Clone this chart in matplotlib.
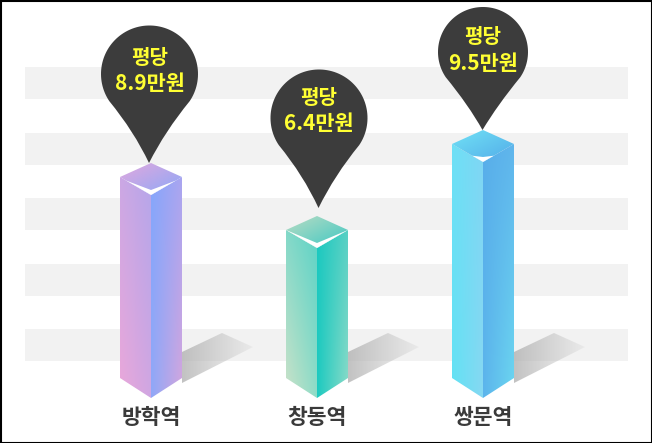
#!/usr/bin/env python3
"""역별 평당 가격 3D 막대 그림 (픽셀 좌표로 그림)."""
import numpy as np
import matplotlib
matplotlib.use("Agg")
import matplotlib.pyplot as plt
from matplotlib.colors import to_rgb
from matplotlib.patches import PathPatch, Polygon, Rectangle
from matplotlib.path import Path

plt.rcParams["font.family"] = ["Noto Sans CJK KR", "DejaVu Sans"]

stations = ["방학역", "창동역", "쌍문역"]
prices = ["8.9만원", "6.4만원", "9.5만원"]
bar_tops = [163, 216, 130]      # 윗면 꼭짓점 y
bar_centers = [151, 317, 483]
pin_centers = [(149.5, 74), (319, 118), (483, 52)]
pin_radius = [48.5, 48.5, 45]
pin_tips = [163, 208, 130]
head_ys = [57, 97, 36]
price_ys = [83, 123, 63]
stripe_tops = [67, 133, 198, 264, 329]

# 면 색: 좌상, 우상, 좌하, 우하
left_faces = [
    ("#cca8e4", "#b6a6ea", "#eaa8da", "#d0a6e2"),
    ("#84d9c9", "#5fd3c6", "#cbe2c8", "#8fdcc8"),
    ("#6ee0f6", "#7fd6f4", "#62e2f4", "#86d8f2"),
]
right_faces = [
    ("#86a6fb", "#aaa5f0", "#8fa8f8", "#d2a6de"),
    ("#1cc9c0", "#58d0c4", "#1ccac0", "#8adbc8"),
    ("#58aeea", "#60b6ec", "#5cb4ec", "#6bd6f0"),
]
top_faces = [
    ("#e2a8de", "#b8a8ea", "#b8a8ea", "#8ca8f8"),
    ("#b9dcc4", "#7cd2c4", "#7cd2c4", "#3cc8c2"),
    ("#70e2f6", "#62c6ee", "#62c6ee", "#52acea"),
]
chevron_reach = [0.8, 1.0, 0.35]

HALF_W = 31
SIDE_BOTTOM = 378
FRONT_BOTTOM = 398
TOP_DEPTH = 14
FRONT_DROP = 32

fig = plt.figure(figsize=(6.52, 4.43), dpi=100)
ax = fig.add_axes([0, 0, 1, 1])


def gradient_poly(verts, corners, zorder=3):
    """네 귀퉁이 색을 쌍선형 보간한 그라데이션을 다각형에 채운다."""
    verts = np.array(verts, dtype=float)
    x0, y0 = verts.min(axis=0)
    x1, y1 = verts.max(axis=0)
    tl, tr, bl, br = [np.array(to_rgb(c)) for c in corners]
    v, u = np.mgrid[0:1:64j, 0:1:64j]
    u, v = u[..., None], v[..., None]
    img = (1 - v) * ((1 - u) * tl + u * tr) + v * ((1 - u) * bl + u * br)
    im = ax.imshow(img, extent=[x0, x1, y1, y0], aspect="auto",
                   interpolation="bilinear", zorder=zorder)
    clip = Polygon(verts, closed=True, transform=ax.transData, fc="none", ec="none")
    ax.add_patch(clip)
    im.set_clip_path(clip)


def draw_shadow(cx):
    x0 = cx + HALF_W
    verts = [(x0, 352), (cx + 71, 333), (cx + 102, 347), (x0, 383)]
    v, u = np.mgrid[0:1:64j, 0:1:64j]
    img = np.zeros((64, 64, 4))
    img[..., :3] = 0.68
    img[..., 3] = 0.62 * (1 - u) + 0.12
    xs, ys = zip(*verts)
    im = ax.imshow(img, extent=[min(xs), max(xs), max(ys), min(ys)], aspect="auto", zorder=2)
    clip = Polygon(verts, closed=True, transform=ax.transData, fc="none", ec="none")
    ax.add_patch(clip)
    im.set_clip_path(clip)


def draw_bar(cx, top, left, right, upper, reach):
    side_top = top + TOP_DEPTH
    front_top = top + FRONT_DROP
    gradient_poly([(cx - HALF_W, side_top), (cx, front_top), (cx, FRONT_BOTTOM),
                   (cx - HALF_W, SIDE_BOTTOM)], left)
    gradient_poly([(cx, front_top), (cx + HALF_W, side_top), (cx + HALF_W, SIDE_BOTTOM),
                   (cx, FRONT_BOTTOM)], right)
    gradient_poly([(cx, top), (cx + HALF_W, side_top), (cx, front_top),
                   (cx - HALF_W, side_top)], upper)
    # 윗면 앞쪽의 흰 V자 하이라이트
    lx, rx = cx - HALF_W * reach, cx + HALF_W * reach
    ly = front_top - (front_top - side_top) * reach
    ax.add_patch(Polygon([(lx, ly), (cx, front_top - 5), (rx, ly), (cx, front_top)],
                         closed=True, fc="white", ec="none", zorder=4))


def draw_pin(cx, cy, r, tip_y):
    # 원호: 왼쪽 아래에서 위로 돌아 오른쪽 아래까지 (y축이 아래 방향)
    ang = np.radians(np.linspace(146, 394, 90))
    pts = np.column_stack([cx + r * np.cos(ang), cy + r * np.sin(ang)])
    tip = (cx - 0.5, tip_y)
    ctrl_r = (cx + r * 0.32, cy + r * 1.18)
    ctrl_l = (cx - r * 0.32, cy + r * 1.18)
    verts = list(map(tuple, pts)) + [ctrl_r, tip, ctrl_l, tuple(pts[0]), tuple(pts[0])]
    codes = [Path.MOVETO] + [Path.LINETO] * (len(pts) - 1) + [Path.CURVE3] * 4 + [Path.CLOSEPOLY]
    ax.add_patch(PathPatch(Path(verts, codes), fc="#3c3c3c", ec="none", zorder=5))


for y in stripe_tops:
    ax.add_patch(Rectangle((25, y), 603, 32, fc="#f2f2f2", ec="none", zorder=1))

for i, name in enumerate(stations):
    cx = bar_centers[i]
    draw_shadow(cx)
    draw_bar(cx, bar_tops[i], left_faces[i], right_faces[i], top_faces[i], chevron_reach[i])
    px, py = pin_centers[i]
    draw_pin(px, py, pin_radius[i], pin_tips[i])
    ax.text(px, head_ys[i], "평당", color="#ffff33", fontsize=14.5, fontweight="bold",
            ha="center", va="center", zorder=6)
    ax.text(px, price_ys[i], prices[i], color="#ffff33", fontsize=15, fontweight="bold",
            ha="center", va="center", zorder=6)
    ax.text(cx, 418, name, color="#3a3a3a", fontsize=15.5, fontweight="bold",
            ha="center", va="center", zorder=6)

ax.set_xlim(0, 652)
ax.set_ylim(443, 0)
ax.axis("off")
# 바깥 검은 테두리
ax.add_patch(Rectangle((0.5, 0.5), 651, 442, fc="none", ec="black", lw=1.5, zorder=10))

fig.savefig("out.png", dpi=100)
